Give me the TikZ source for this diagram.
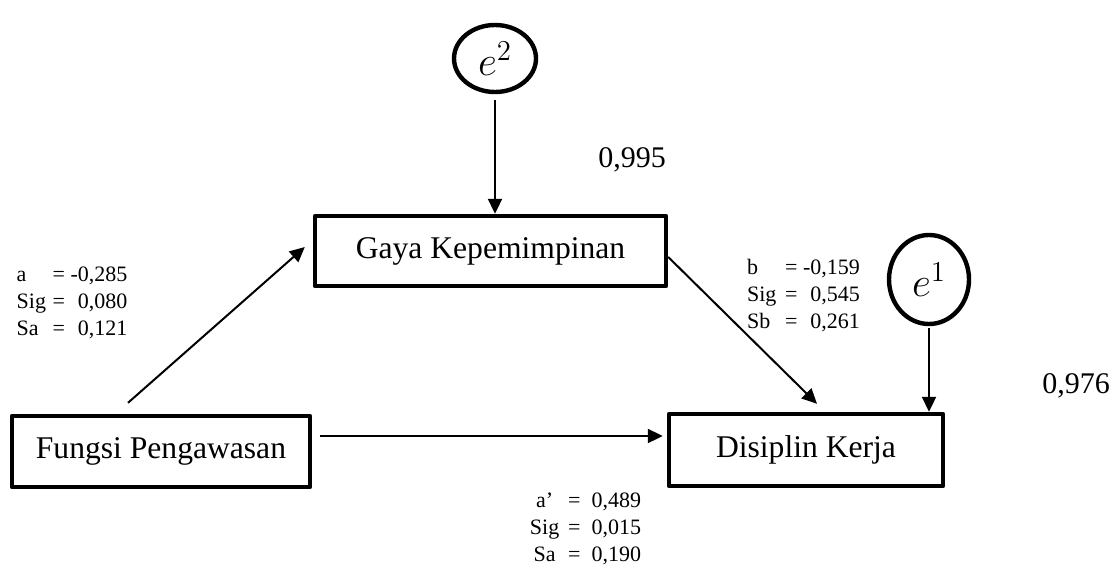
\documentclass[tikz,border=0pt]{standalone}
\usepackage{fontspec}
\setmainfont{Liberation Serif}
\usetikzlibrary{arrows.meta,shapes.geometric,calc}

\begin{document}
\begin{tikzpicture}[x=0.5pt,y=-0.5pt,
    box/.style={rectangle, draw, line width=2.2pt, line join=round, inner sep=0pt, font=\fontsize{15.8}{19}\selectfont},
    err/.style={ellipse, draw, line width=2.2pt, inner sep=0pt, font=\fontsize{20}{24}\selectfont},
    arr/.style={-{Triangle[length=7.5pt,width=7pt]}, line width=1pt},
    stat/.style={font=\fontsize{11}{13.5}\selectfont, inner sep=0pt},
    coef/.style={font=\fontsize{15}{18}\selectfont, inner sep=0pt}]

          % Page
          \useasboundingbox (0,0) rectangle (1117,567);

          % Variables
          \node[box, minimum width=149pt, minimum height=35.5pt] (fp) at (161,451.5) {Fungsi Pengawasan};
          \node[box, minimum width=175.5pt, minimum height=35pt] (gk) at (490.5,251) {Gaya Kepemimpinan};
          \node[box, minimum width=137pt, minimum height=36pt] (dk) at (806,450) {Disiplin Kerja};

          % Errors
          \node[err, minimum width=41pt, minimum height=33.5pt] (e2) at (495,58.5) {$e^{2}$};
          \node[err, minimum width=40pt, minimum height=44.5pt] (e1) at (929,279.5) {$e^{1}$};

          % Paths
          \draw[arr] ($(fp.north)+(-33,-11)$) -- ($(gk.west)+(-8,-4)$);
          \draw[arr] ($(gk.east)+(0,6)$) -- ($(dk.north)+(11,-8)$);
          \draw[arr] ($(fp.east)+(8,-15.5)$) -- ($(dk.west)+(-4,-14)$);
          \draw[arr, shorten <=3pt] (e2.south) -- (e2.south |- gk.north);
          \draw[arr, shorten <=1pt] (e1.south) -- (e1.south |- dk.north);

          % Coefficients
          \node[stat] (sa) at (72,303) {\begin{tabular}{@{}l@{\hspace{0.3em}}c@{\hspace{0.25em}}r@{}}
            a & = & -0,285\\ Sig & = & 0,080\\ Sa & = & 0,121\end{tabular}};
          \node[stat] (sb) at (803.5,296.5) {\begin{tabular}{@{}l@{\hspace{0.4em}}c@{\hspace{0.25em}}r@{}}
            b & = & -0,159\\ Sig & = & 0,545\\ Sb & = & 0,261\end{tabular}};
          \node[stat] (sc) at (585.5,529.5) {\begin{tabular}{@{}c@{\hspace{0.4em}}c@{\hspace{0.5em}}r@{}}
            a’ & = & 0,489\\ Sig & = & 0,015\\ Sa & = & 0,190\end{tabular}};

          % R square
          \node[coef] (r2) at (632,160) {0,995};
          \node[coef] (r1) at (1076,386) {0,976};

        \end{tikzpicture}
\end{document}
